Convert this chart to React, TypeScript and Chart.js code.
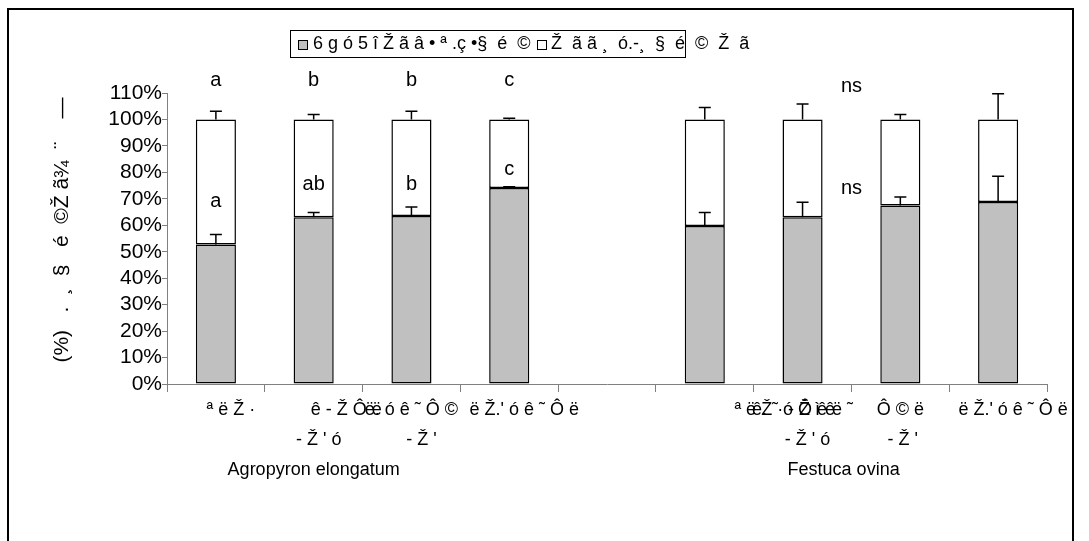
import React, { useEffect, useRef } from "react";
import { Chart, registerables } from "chart.js";

Chart.register(...registerables);

const FONT = "'Liberation Sans', Arial, sans-serif";

// categories (9 slots: 4 bars, an empty gap, 4 bars)
const categoryLabels: (string | string[])[] = [
  "      ª ë Ž ·",
  ["             ê - Ž Ô ë", "  - Ž ' ó"],
  ["ë. ó ê ˜ Ô ©", "    - Ž '"],
  ["      ë Ž.' ó ê ˜ Ô ë"],
  "",
  ["                                ª ë Ž · - Ž ì ê"],
  ["ê. ˜ ó Ô ê ë ˜", "  - Ž ' ó"],
  ["Ô © ë", " - Ž '"],
  ["      ë Ž.' ó ê ˜ Ô ë"],
];
const groupNames = ["Agropyron elongatum", "Festuca ovina"];
const groupPositions = [1.0, 6.42];

const legendLabels = ["6 g ó 5 î Ž ã â • ª .ç •§  é  ©", "Ž  ã ã ¸  ó.-¸  §  é  ©  Ž  ã"];
const yTitle = "(%)   .  ¸  §   é  ©Ž ã¾  ¨    —";

// series (percent)
const grayValues: (number | null)[] = [52.7, 63.0, 63.5, 74.1, null, 59.7, 63.0, 67.5, 68.8];
const grayErrors: (number | null)[] = [3.8, 1.8, 3.4, 0.5, null, 5.1, 5.7, 3.2, 9.7];
const totalErrors: (number | null)[] = [3.1, 1.9, 3.1, 0.5, null, 4.5, 5.8, 1.9, 9.7];

// significance letters
const topLetters = ["a", "b", "b", "c"];
const topLetterValue = 112.5;
const innerLetters = ["a", "ab", "b", "c"];
const innerLetterValues = [66.9, 73.5, 73.5, 78.9];
const nsPosition = 6.5;
const nsTopValue = 110.3;
const nsInnerValue = 71.9;

const yTicks = [0, 10, 20, 30, 40, 50, 60, 70, 80, 90, 100, 110];

const whiteValues = grayValues.map((v) => (v === null ? null : 100 - v));

const overlayPlugin = {
  id: "overlay",
  afterDatasetsDraw(chart: any) {
    const ctx = chart.ctx;
    const x = chart.scales.x;
    const y = chart.scales.y;
    ctx.save();
    // error bars
    ctx.strokeStyle = "#000";
    ctx.lineWidth = 1.5;
    const cap = 6;
    grayValues.forEach((g, i) => {
      if (g === null) return;
      const px = x.getPixelForValue(i);
      const segs: [number, number][] = [
        [g, g + (grayErrors[i] as number)],
        [100, 100 + (totalErrors[i] as number)],
      ];
      segs.forEach(([a, b]) => {
        const ya = y.getPixelForValue(a);
        const yb = y.getPixelForValue(b);
        ctx.beginPath();
        ctx.moveTo(px, ya);
        ctx.lineTo(px, yb);
        ctx.moveTo(px - cap, yb);
        ctx.lineTo(px + cap, yb);
        ctx.stroke();
      });
    });
    // letters
    ctx.fillStyle = "#000";
    ctx.font = `20px ${FONT}`;
    ctx.textAlign = "center";
    ctx.textBaseline = "alphabetic";
    topLetters.forEach((t, i) => {
      ctx.fillText(t, x.getPixelForValue(i), y.getPixelForValue(topLetterValue));
    });
    innerLetters.forEach((t, i) => {
      ctx.fillText(t, x.getPixelForValue(i), y.getPixelForValue(innerLetterValues[i]));
    });
    ctx.fillText("ns", x.getPixelForValue(nsPosition), y.getPixelForValue(nsTopValue));
    ctx.fillText("ns", x.getPixelForValue(nsPosition), y.getPixelForValue(nsInnerValue));

    // group names
    ctx.font = `18px ${FONT}`;
    ctx.textBaseline = "middle";
    groupNames.forEach((n, i) => {
      ctx.fillText(n, x.getPixelForValue(groupPositions[i]), 470);
    });

    // y title
    ctx.save();
    ctx.translate(62, 230);
    ctx.rotate(-Math.PI / 2);
    ctx.font = `21px ${FONT}`;
    ctx.textAlign = "center";
    ctx.textBaseline = "middle";
    ctx.fillText(yTitle, 0, 0);
    ctx.restore();

    // legend
    ctx.lineWidth = 1;
    ctx.strokeStyle = "#000";
    ctx.strokeRect(290.5, 30.5, 395, 27);
    ctx.fillStyle = "#c0c0c0";
    ctx.fillRect(298, 40, 9, 9);
    ctx.strokeRect(298.5, 40.5, 9, 9);
    ctx.fillStyle = "#000";
    ctx.font = `18px ${FONT}`;
    ctx.textAlign = "left";
    ctx.textBaseline = "middle";
    ctx.fillText(legendLabels[0], 313, 44);
    ctx.fillStyle = "#fff";
    ctx.fillRect(537, 40, 9, 9);
    ctx.strokeRect(537.5, 40.5, 9, 9);
    ctx.fillStyle = "#000";
    ctx.fillText(legendLabels[1], 551, 44);

    // outer frame
    ctx.lineWidth = 2;
    ctx.strokeRect(8, 9, 1065, 545);
    ctx.restore();
  },
};

export default function App() {
  const ref = useRef<HTMLCanvasElement | null>(null);
  useEffect(() => {
    if (!ref.current) return;
    const chart = new Chart(ref.current, {
      type: "bar",
      data: {
        labels: categoryLabels as any,
        datasets: [
          {
            data: grayValues as any,
            backgroundColor: "#c0c0c0",
            borderColor: "#000",
            borderWidth: 1.5,
            borderSkipped: false,
            barPercentage: 0.41,
            categoryPercentage: 1,
          },
          {
            data: whiteValues as any,
            backgroundColor: "#ffffff",
            borderColor: "#000",
            borderWidth: 1.5,
            borderSkipped: false,
            barPercentage: 0.41,
            categoryPercentage: 1,
          },
        ],
      },
      options: {
        animation: false,
        responsive: false,
        maintainAspectRatio: false,
        layout: { padding: { top: 93, right: 42, left: 0, bottom: 0 } },
        plugins: { legend: { display: false }, tooltip: { enabled: false } },
        scales: {
          x: {
            stacked: true,
            offset: true,
            grid: {
              display: true,
              offset: true,
              drawOnChartArea: false,
              drawTicks: true,
              tickLength: 8,
              color: "#808080",
              lineWidth: 1,
            },
            border: { display: true, color: "#808080", width: 1 },
            ticks: {
              autoSkip: false,
              maxRotation: 0,
              minRotation: 0,
              color: "#000",
              padding: 3,
              font: { family: FONT, size: 18, lineHeight: "30px" },
            },
            afterFit: (s: any) => {
              s.height = 541 - 384;
            },
          },
          y: {
            stacked: true,
            min: 0,
            max: 110,
            afterBuildTicks: (s: any) => {
              s.ticks = yTicks.map((v) => ({ value: v }));
            },
            grid: {
              drawOnChartArea: false,
              drawTicks: true,
              tickLength: 5,
              color: "#808080",
            },
            border: { display: true, color: "#808080", width: 1 },
            ticks: {
              autoSkip: false,
              color: "#000",
              padding: 0,
              font: { family: FONT, size: 21 },
              callback: (v: any) => `${v}%`,
            },
            afterFit: (s: any) => {
              s.width = 167;
            },
          },
        },
      },
      plugins: [overlayPlugin],
    });
    return () => chart.destroy();
  }, []);
  return (
    <canvas
      ref={ref}
      width={1089}
      height={541}
      style={{ position: "absolute", left: 0, top: 0, width: 1089, height: 541 }}
    />
  );
}
